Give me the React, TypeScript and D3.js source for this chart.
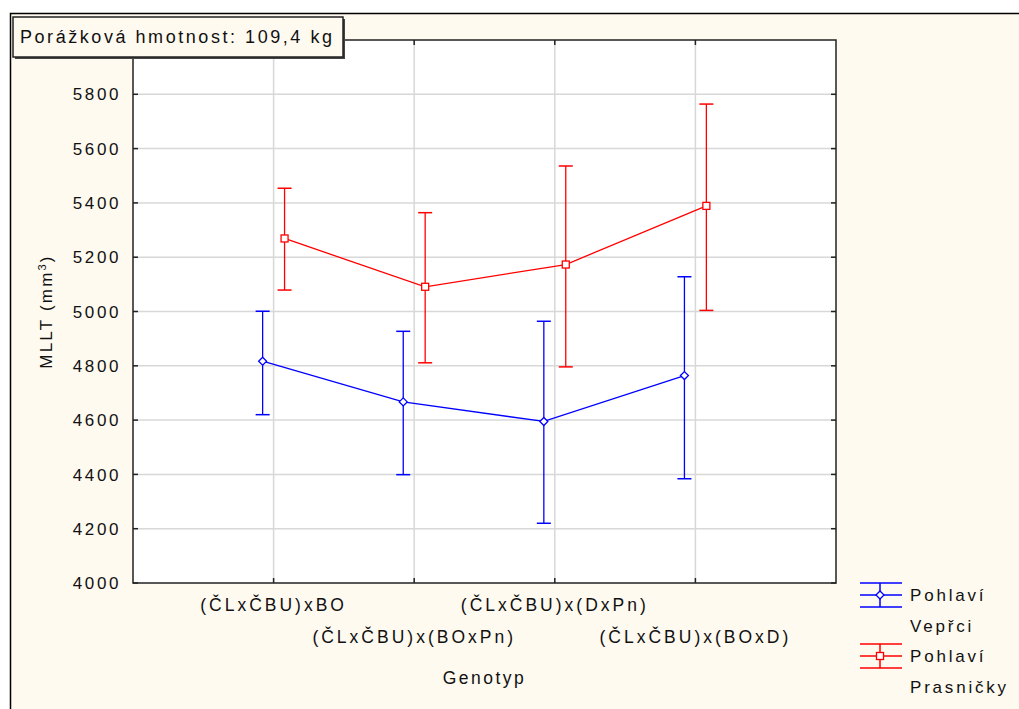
import * as d3 from "d3";

// Genotype groups on the x axis (staggered on two rows)
const categories = [
  "(ČLxČBU)xBO",
  "(ČLxČBU)x(BOxPn)",
  "(ČLxČBU)x(DxPn)",
  "(ČLxČBU)x(BOxD)",
];

// Pohlaví Vepřci (blue)
const boarMean = [4817, 4667, 4595, 4764];
const boarLow = [4620, 4399, 4220, 4384];
const boarHigh = [5001, 4927, 4964, 5128];

// Pohlaví Prasničky (red)
const giltMean = [5269, 5091, 5173, 5389];
const giltLow = [5079, 4811, 4796, 5004];
const giltHigh = [5454, 5364, 5536, 5764];

const yTicks = [4000, 4200, 4400, 4600, 4800, 5000, 5200, 5400, 5600, 5800];

const W = 1019;
const H = 709;
const plot = { left: 133, right: 836, top: 40, bottom: 583 };
const font = "'Liberation Sans', Arial, sans-serif";

const BLUE = "#0000ff";
const RED = "#ff0000";

export default function App() {
  const x = d3.scaleLinear().domain([0, 5]).range([plot.left, plot.right]);
  const y = d3.scaleLinear().domain([4000, 6000]).range([plot.bottom, plot.top]);
  const shift = 0.078; // horizontal dodge of the two series

  const series = [
    { name: ["Pohlaví", "Vepřci"], color: BLUE, mean: boarMean, low: boarLow, high: boarHigh, dx: -shift, marker: "circle" },
    { name: ["Pohlaví", "Prasničky"], color: RED, mean: giltMean, low: giltLow, high: giltHigh, dx: shift, marker: "square" },
  ];

  const marker = (kind: string, cx: number, cy: number, color: string) =>
    kind === "square" ? (
      <rect x={cx - 3.5} y={cy - 3.5} width={7} height={7} fill="#fff" stroke={color} strokeWidth={1.3} />
    ) : (
      <path
        d={`M${cx - 4},${cy} L${cx},${cy - 4} L${cx + 4},${cy} L${cx},${cy + 4} Z`}
        fill="#fff"
        stroke={color}
        strokeWidth={1.3}
      />
    );

  return (
    <svg
      width={W}
      height={H}
      style={{ position: "absolute", left: 0, top: 0, display: "block" }}
      fontFamily={font}
    >
      <rect x={0} y={0} width={W} height={H} fill="#fff" />
      {/* outer panel */}
      <rect x={10.5} y={13.5} width={W} height={H} fill="#fffaf0" stroke="#000" strokeWidth={1.5} />

      {/* plot area */}
      <rect x={plot.left} y={plot.top} width={plot.right - plot.left} height={plot.bottom - plot.top} fill="#fff" />

      {/* grid */}
      {yTicks.slice(1).map((t) => (
        <line key={"gy" + t} x1={plot.left} x2={plot.right} y1={y(t)} y2={y(t)} stroke="#d8d8d8" strokeWidth={1.5} />
      ))}
      {categories.map((c, i) => (
        <line key={"gx" + i} x1={x(i + 1)} x2={x(i + 1)} y1={plot.top} y2={plot.bottom} stroke="#d8d8d8" strokeWidth={1.5} />
      ))}

      {/* frame + ticks */}
      <rect
        x={plot.left}
        y={plot.top}
        width={plot.right - plot.left}
        height={plot.bottom - plot.top}
        fill="none"
        stroke="#222"
        strokeWidth={1.5}
      />
      {yTicks.map((t) => (
        <g key={"ty" + t}>
          <line x1={plot.left} x2={plot.left + 5} y1={y(t)} y2={y(t)} stroke="#222" strokeWidth={1.5} />
          <line x1={plot.right - 5} x2={plot.right} y1={y(t)} y2={y(t)} stroke="#222" strokeWidth={1.5} />
          <text
            x={plot.left - 12}
            y={y(t)}
            dy="0.36em"
            textAnchor="end"
            fontSize={17}
            letterSpacing={2.6}
            fill="#111"
          >
            {t}
          </text>
        </g>
      ))}
      {categories.map((c, i) => (
        <g key={"tx" + i}>
          <line x1={x(i + 1)} x2={x(i + 1)} y1={plot.bottom - 5} y2={plot.bottom} stroke="#222" strokeWidth={1.5} />
          <line x1={x(i + 1)} x2={x(i + 1)} y1={plot.top} y2={plot.top + 5} stroke="#222" strokeWidth={1.5} />
          <text
            x={x(i + 1)}
            y={i % 2 === 0 ? 611 : 643}
            textAnchor="middle"
            fontSize={17.5}
            letterSpacing={3}
            fill="#111"
          >
            {c}
          </text>
        </g>
      ))}

      {/* series */}
      {series.map((s) => {
        const xs = s.mean.map((_, i) => x(i + 1 + s.dx));
        const path = d3
          .line<number>()
          .x((_, i) => xs[i])
          .y((d) => y(d))(s.mean);
        return (
          <g key={s.color}>
            <path d={path ?? ""} fill="none" stroke={s.color} strokeWidth={1.3} />
            {s.mean.map((m, i) => (
              <g key={i}>
                <line x1={xs[i]} x2={xs[i]} y1={y(s.low[i])} y2={y(s.high[i])} stroke={s.color} strokeWidth={1.3} />
                <line x1={xs[i] - 7} x2={xs[i] + 7} y1={y(s.low[i])} y2={y(s.low[i])} stroke={s.color} strokeWidth={1.5} />
                <line x1={xs[i] - 7} x2={xs[i] + 7} y1={y(s.high[i])} y2={y(s.high[i])} stroke={s.color} strokeWidth={1.5} />
                {marker(s.marker, xs[i], y(m), s.color)}
              </g>
            ))}
          </g>
        );
      })}

      {/* title box */}
      <rect x={15} y={19} width={330} height={40} fill="#444" />
      <rect x={13} y={17} width={330} height={40} fill="#fffaf0" stroke="#222" strokeWidth={1.5} />
      <text x={20} y={43} fontSize={18} letterSpacing={2.55} fill="#111">
        Porážková hmotnost: 109,4 kg
      </text>

      {/* axis titles */}
      <text x={(plot.left + plot.right) / 2} y={684} textAnchor="middle" fontSize={17.5} letterSpacing={2.5} fill="#111">
        Genotyp
      </text>
      <text
        transform={`translate(52,${(plot.top + plot.bottom) / 2}) rotate(-90)`}
        textAnchor="middle"
        fontSize={17}
        letterSpacing={2.2}
        fill="#111"
      >
        MLLT (mm
        <tspan dy={-6} fontSize={11}>3</tspan>
        <tspan dy={6}>)</tspan>
      </text>

      {/* legend */}
      {series.map((s, k) => {
        const cy = 595 + k * 61;
        return (
          <g key={"lg" + k}>
            <line x1={860} x2={902} y1={cy - 12} y2={cy - 12} stroke={s.color} strokeWidth={1.5} />
            <line x1={860} x2={902} y1={cy} y2={cy} stroke={s.color} strokeWidth={1.5} />
            <line x1={860} x2={902} y1={cy + 12} y2={cy + 12} stroke={s.color} strokeWidth={1.5} />
            <line x1={880} x2={880} y1={cy - 12} y2={cy + 12} stroke={s.color} strokeWidth={1.5} />
            {marker(s.marker, 880, cy, s.color)}
            <text x={910} y={cy} dy="0.36em" fontSize={17} letterSpacing={2.8} fill="#111">
              {s.name[0]}
            </text>
            <text x={910} y={cy + 31} dy="0.36em" fontSize={17} letterSpacing={2.8} fill="#111">
              {s.name[1]}
            </text>
          </g>
        );
      })}
    </svg>
  );
}
